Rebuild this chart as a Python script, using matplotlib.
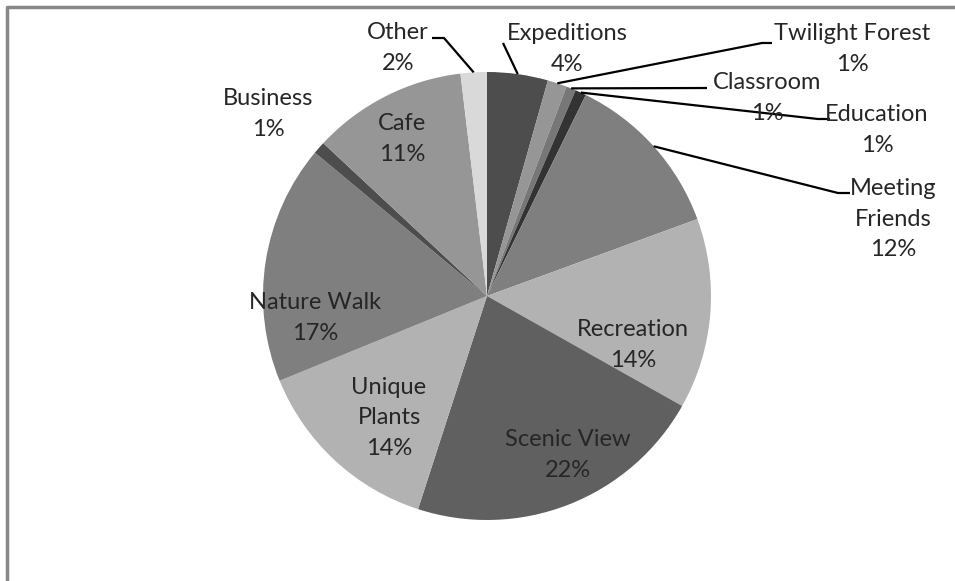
import numpy as np
from matplotlib import pyplot as plt

# slice data, clockwise from 12 o'clock
labels = ['Expeditions', 'Twilight Forest', 'Classroom', 'Education',
          'Meeting\nFriends', 'Recreation', 'Scenic View', 'Unique\nPlants',
          'Nature Walk', 'Business', 'Cafe', 'Other']
shares = [4.4, 1.4, 0.7, 0.8, 12.2, 13.8, 21.9, 13.9, 17.3, 0.9, 11.2, 1.9]

greys = ['#4d4d4d', '#969696', '#777777', '#333333', '#7f7f7f', '#b2b2b2',
         '#606060', '#b2b2b2', '#7f7f7f', '#4d4d4d', '#969696', '#d9d9d9']

W, H = 955, 581
CX, CY, R = 487, 296, 224

# label centres in image pixels, and leader line points (elbow, end) if any
layout = {
    'Expeditions': ((567, 49), [(503, 43)]),
    'Twilight Forest': ((852, 49), [(762, 43), (772, 43)]),
    'Classroom': ((767, 98), [(707, 88)]),
    'Education': ((877, 130), [(818, 119), (830, 119)]),
    'Meeting\nFriends': ((893, 219), [(838, 193), (850, 193)]),
    'Recreation': ((633, 345), None),
    'Scenic View': ((568, 455), None),
    'Unique\nPlants': ((389, 418), None),
    'Nature Walk': ((315, 318), None),
    'Business': ((268, 114), None),
    'Cafe': ((402, 139), None),
    'Other': ((398, 48), [(444, 38), (432, 38)]),
}

plt.rcParams['font.family'] = ['Lato', 'DejaVu Sans']

fig = plt.figure(figsize=(W / 100, H / 100), dpi=100)
ax = fig.add_axes([0, 0, 1, 1])
ax.axis('off')

def flip(p):
    return p[0], H - p[1]

wedges, _ = ax.pie(shares, colors=greys, startangle=90, counterclock=False,
                   center=(CX, H - CY), radius=R,
                   wedgeprops=dict(linewidth=0))
ax.set_xlim(0, W)
ax.set_ylim(0, H)
ax.set_aspect('equal')

total = sum(shares)
for w, name, val in zip(wedges, labels, shares):
    pct = '{:.0f}%'.format(val / total * 100)
    (tx, ty), leader = layout[name]
    ax.text(tx, H - ty, name + '\n' + pct, ha='center', va='center',
            fontsize=17, color='#262626', linespacing=1.55)
    if leader:
        mid = np.deg2rad((w.theta1 + w.theta2) / 2)
        start = (CX + R * np.cos(mid), H - CY + R * np.sin(mid))
        pts = [start] + [flip(p) for p in leader]
        xs, ys = zip(*pts)
        ax.plot(xs, ys, color='black', lw=1.6, solid_capstyle='butt')

# chart area frame (only the left and top edges are visible)
ax.plot([7, 7, W + 5], [-5, H - 7, H - 7], color='#888888', lw=2.5)

fig.savefig('out.png', dpi=100, facecolor='white')
